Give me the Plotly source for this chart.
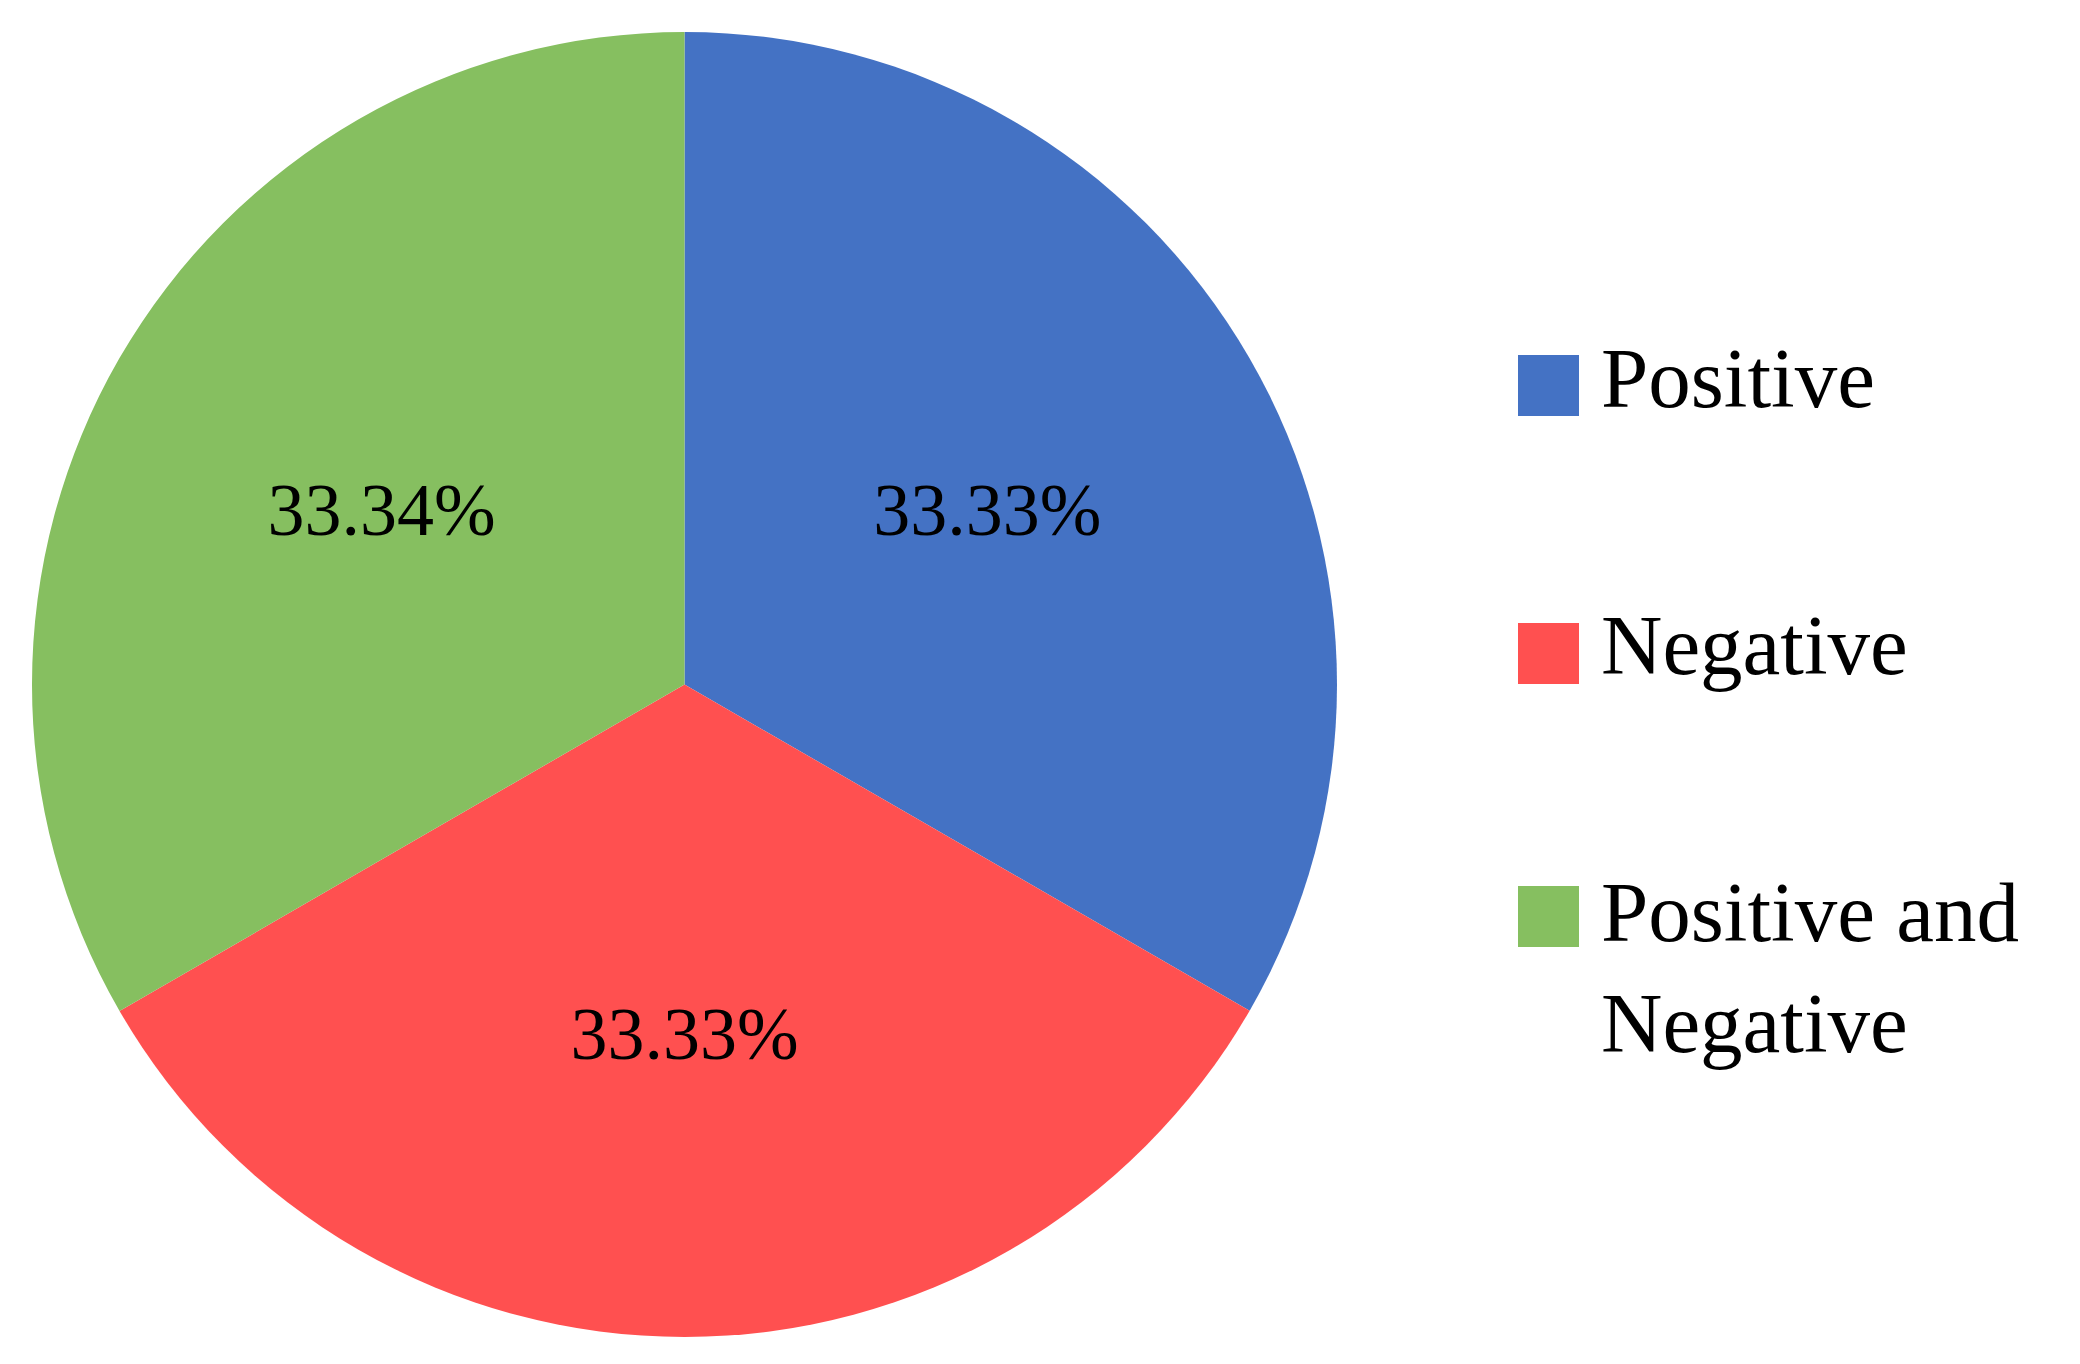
import plotly.graph_objects as go

# ---- data ----
labels = ["Positive", "Negative", "Positive and Negative"]
values = [33.33, 33.33, 33.34]
legend_labels = ["Positive", "Negative", "Positive and<br>Negative"]
colors = ["#4472C4", "#FF5050", "#86BF60"]

# page has an 8px body margin; size the figure to fit the 2080x1364 window
OFF = 8
FW, FH = 2080 - 2 * OFF, 1364 - 2 * OFF


def px(x):
    return (x - OFF) / FW


def py(y):
    return 1 - (y - OFF) / FH


fig = go.Figure(
    go.Pie(
        labels=labels,
        values=values,
        sort=False,
        direction="clockwise",
        rotation=0,
        marker=dict(colors=colors, line=dict(width=0)),
        texttemplate="%{value:.2f}%",
        textposition="inside",
        insidetextorientation="horizontal",
        textfont=dict(family="Liberation Serif", size=74, color="#000000"),
        domain=dict(x=[px(32), px(1337)], y=[py(1337), py(32)]),
        showlegend=False,
        hoverinfo="label+value",
    )
)

# custom legend (large square swatches like the original)
sq_x0, sq_size = 1518, 61
sq_tops = [355, 623, 886]
text_x = 1599
text_tops = [329, 596, 863]
font_size = 85
shapes = []
annotations = []
for lab, col, top, ttop in zip(legend_labels, colors, sq_tops, text_tops):
    shapes.append(dict(type="rect", xref="paper", yref="paper",
                       x0=px(sq_x0), x1=px(sq_x0 + sq_size),
                       y0=py(top + sq_size), y1=py(top),
                       fillcolor=col, line=dict(width=0)))
    annotations.append(dict(xref="paper", yref="paper", x=px(text_x), y=py(ttop),
                            xanchor="left", yanchor="top", align="left", showarrow=False,
                            text=lab,
                            font=dict(family="Liberation Serif", size=font_size, color="#000000")))

fig.update_layout(
    width=FW, height=FH,
    margin=dict(l=0, r=0, t=0, b=0),
    paper_bgcolor="white", plot_bgcolor="white",
    shapes=shapes, annotations=annotations,
)

fig.write_html("out.html")
